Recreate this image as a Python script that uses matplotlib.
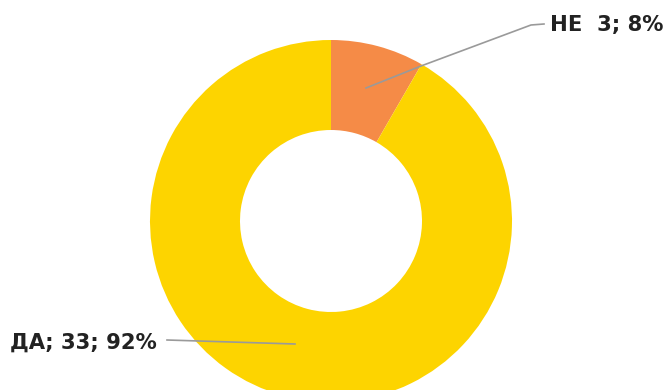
import matplotlib.pyplot as plt

labels = ['НЕ', 'ДА']
counts = [3, 33]
colors = ['#F58B47', '#FDD400']

total = sum(counts)
pcts = [round(c * 100 / total) for c in counts]

fig = plt.figure(figsize=(6.68, 3.9), dpi=100)
ax = fig.add_axes([0, 0, 1, 1])

# donut, first slice starts at 12 o'clock and goes clockwise
wedges, _ = ax.pie(counts, colors=colors, startangle=90, counterclock=False,
                   center=(331, 169), radius=181, frame=True,
                   wedgeprops=dict(width=90, linewidth=0))
ax.set_xlim(0, 668)
ax.set_ylim(0, 390)
ax.axis('off')

font = dict(family=['DejaVu Sans'], weight='bold', size=15.2, color='#222222')
line = dict(color='#9a9a9a', lw=1.2)

# НЕ label with leader line
ax.plot([366, 421, 531, 544], [302, 324, 365, 366], **line)
ax.text(550, 365, f'{labels[0]}  {counts[0]}; {pcts[0]}%', va='center', ha='left', **font)

# ДА label with leader line
ax.plot([167, 295], [50, 46], **line)
ax.text(10, 47, f'{labels[1]}; {counts[1]}; {pcts[1]}%', va='center', ha='left', **font)

fig.savefig('out.png', dpi=100)
